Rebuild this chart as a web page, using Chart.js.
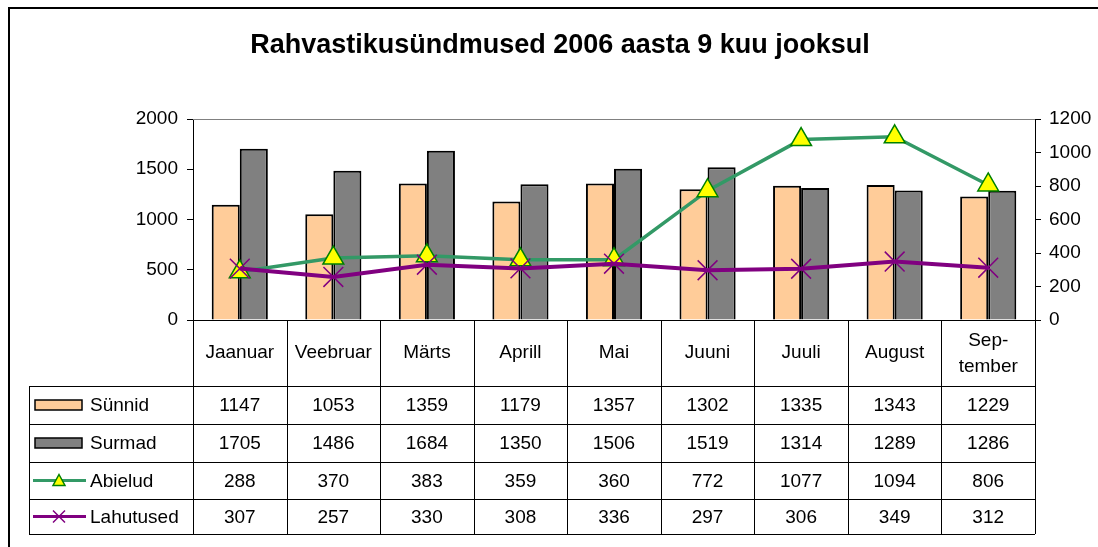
<!DOCTYPE html>
<html>
<head>
<meta charset="utf-8">
<script src="https://cdn.jsdelivr.net/npm/chart.js@4"></script>
<style>
  html, body { margin: 0; padding: 0; background: #fff; }
  #wrap { width: 1098px; height: 547px; }
</style>
</head>
<body>
<div id="wrap"><canvas id="rahvastik" width="1098" height="547"></canvas></div>
<script>
// Andmed
const months = ['Jaanuar', 'Veebruar', 'Märts', 'Aprill', 'Mai', 'Juuni', 'Juuli', 'August', ['Sep-', 'tember']];
const sunnid = [1147, 1053, 1359, 1179, 1357, 1302, 1335, 1343, 1229];
const surmad = [1705, 1486, 1684, 1350, 1506, 1519, 1314, 1289, 1286];
const abielud = [288, 370, 383, 359, 360, 772, 1077, 1094, 806];
const lahutused = [307, 257, 330, 308, 336, 297, 306, 349, 312];
const leftTicks = [0, 500, 1000, 1500, 2000];
const rightTicks = [0, 200, 400, 600, 800, 1000, 1200];

const FONT = '"Liberation Sans", Arial, sans-serif';

// pealkiri + raam + andmetabel joonistatakse ise
const framePlugin = {
    id: 'frame',
    afterDraw(chart) {
        const ctx = chart.ctx;
        const a = chart.chartArea;
        const xs = chart.scales.x;
        ctx.save();

        // outer frame (only top/left visible)
        ctx.strokeStyle = '#000';
        ctx.lineWidth = 2;
        ctx.strokeRect(9, 8, 1200, 600);

        // title
        ctx.fillStyle = '#000';
        ctx.font = 'bold 27px ' + FONT;
        ctx.textAlign = 'center';
        ctx.textBaseline = 'middle';
        ctx.fillText('Rahvastikusündmused 2006 aasta 9 kuu jooksul', 560, 46);

        // plot area top border
        ctx.strokeStyle = '#808080';
        ctx.lineWidth = 1;
        ctx.beginPath();
        ctx.moveTo(a.left, a.top + 0.5);
        ctx.lineTo(a.right, a.top + 0.5);
        ctx.stroke();

        // table
        const rows = [a.bottom, 386, 424, 462, 499, 534];
        const keyLeft = 29;
        const half = (xs.getPixelForValue(1) - xs.getPixelForValue(0)) / 2;
        const edges = months.map((m, i) => xs.getPixelForValue(i) - half);
        edges.push(a.right);

        ctx.strokeStyle = '#000';
        ctx.lineWidth = 1;
        ctx.beginPath();
        ctx.moveTo(a.left, Math.round(rows[0]) + 0.5);
        ctx.lineTo(a.right, Math.round(rows[0]) + 0.5);
        for (let r = 1; r < rows.length; r++) {
            ctx.moveTo(keyLeft, rows[r] + 0.5);
            ctx.lineTo(a.right, rows[r] + 0.5);
        }
        edges.forEach(e => {
            ctx.moveTo(Math.round(e) + 0.5, rows[0]);
            ctx.lineTo(Math.round(e) + 0.5, rows[5]);
        });
        ctx.moveTo(keyLeft + 0.5, rows[1]);
        ctx.lineTo(keyLeft + 0.5, rows[5]);
        ctx.stroke();

        ctx.font = '19px ' + FONT;
        ctx.fillStyle = '#000';
        ctx.textAlign = 'center';
        ctx.textBaseline = 'middle';

        // header
        months.forEach((m, i) => {
            const cx = (edges[i] + edges[i + 1]) / 2;
            const cy = (rows[0] + rows[1]) / 2;
            if (Array.isArray(m)) {
                ctx.fillText(m[0], cx, cy - 12);
                ctx.fillText(m[1], cx, cy + 14);
            } else {
                ctx.fillText(m, cx, cy);
            }
        });

        // value rows
        chart.data.datasets.forEach((ds, r) => {
            const cy = (rows[r + 1] + rows[r + 2]) / 2;
            ds.data.forEach((v, i) => {
                ctx.fillText(String(v), (edges[i] + edges[i + 1]) / 2, cy + 1);
            });

            // legend key
            if (ds.type === 'bar') {
                ctx.fillStyle = ds.backgroundColor;
                ctx.fillRect(35, cy - 5, 47, 10);
                ctx.strokeStyle = '#000';
                ctx.lineWidth = 1.5;
                ctx.strokeRect(35, cy - 5, 47, 10);
            } else {
                ctx.strokeStyle = ds.borderColor;
                ctx.lineWidth = 3;
                ctx.beginPath();
                ctx.moveTo(33, cy);
                ctx.lineTo(86, cy);
                ctx.stroke();
                ctx.fillStyle = ds.pointBackgroundColor;
                ctx.strokeStyle = ds.pointBorderColor;
                ctx.lineWidth = ds.pointBorderWidth;
                ctx.beginPath();
                if (ds.pointStyle === 'triangle') {
                    ctx.moveTo(59, cy - 6);
                    ctx.lineTo(65, cy + 5);
                    ctx.lineTo(53, cy + 5);
                    ctx.closePath();
                    ctx.fill();
                    ctx.stroke();
                } else {
                    ctx.moveTo(53, cy - 6);
                    ctx.lineTo(65, cy + 6);
                    ctx.moveTo(65, cy - 6);
                    ctx.lineTo(53, cy + 6);
                    ctx.stroke();
                }
            }
            ctx.fillStyle = '#000';
            ctx.textAlign = 'left';
            ctx.fillText(ds.label, 90, cy + 1);
            ctx.textAlign = 'center';
        });

        ctx.restore();
    }
};

const plainTick = v => String(v);

new Chart(document.getElementById('rahvastik').getContext('2d'), {
    type: 'bar',
    data: {
        labels: months,
        datasets: [
            {
                type: 'bar',
                label: 'Sünnid',
                data: sunnid,
                backgroundColor: '#FFCC99',
                borderColor: '#000',
                borderWidth: 2,
                yAxisID: 'y',
                order: 3
            },
            {
                type: 'bar',
                label: 'Surmad',
                data: surmad,
                backgroundColor: '#808080',
                borderColor: '#000',
                borderWidth: 2,
                yAxisID: 'y',
                order: 3
            },
            {
                type: 'line',
                label: 'Abielud',
                data: abielud,
                borderColor: '#339966',
                borderWidth: 3.5,
                pointStyle: 'triangle',
                pointRadius: 12,
                pointBackgroundColor: '#FFFF00',
                pointBorderColor: '#008000',
                pointBorderWidth: 1.5,
                tension: 0,
                yAxisID: 'y1',
                order: 1
            },
            {
                type: 'line',
                label: 'Lahutused',
                data: lahutused,
                borderColor: '#800080',
                borderWidth: 4,
                pointStyle: 'crossRot',
                pointRadius: 14,
                pointBorderColor: '#800080',
                pointBackgroundColor: '#800080',
                pointBorderWidth: 1.5,
                tension: 0,
                yAxisID: 'y1',
                order: 0
            }
        ]
    },
    options: {
        responsive: false,
        animation: false,
        layout: { padding: { top: 119, bottom: 227, left: 0, right: 0 } },
        datasets: { bar: { categoryPercentage: 0.6, barPercentage: 1.0 } },
        scales: {
            x: { display: false, offset: true },
            y: {
                position: 'left',
                min: 0, max: 2000,
                afterBuildTicks: s => { s.ticks = leftTicks.map(v => ({ value: v })); },
                afterFit: s => { s.width = 193; },
                grid: { drawOnChartArea: false, drawTicks: true, tickLength: 6, color: '#000' },
                border: { display: true, color: '#000', width: 1 },
                ticks: { color: '#000', padding: 9, callback: plainTick, font: { family: FONT, size: 19 } }
            },
            y1: {
                position: 'right',
                min: 0, max: 1200,
                afterBuildTicks: s => { s.ticks = rightTicks.map(v => ({ value: v })); },
                afterFit: s => { s.width = 63; },
                grid: { drawOnChartArea: false, drawTicks: true, tickLength: 6, color: '#000' },
                border: { display: true, color: '#000', width: 1 },
                ticks: { color: '#000', padding: 8, callback: plainTick, font: { family: FONT, size: 19 } }
            }
        },
        plugins: {
            legend: { display: false },
            title: { display: false },
            tooltip: { enabled: false }
        }
    },
    plugins: [framePlugin]
});
</script>
</body>
</html>
